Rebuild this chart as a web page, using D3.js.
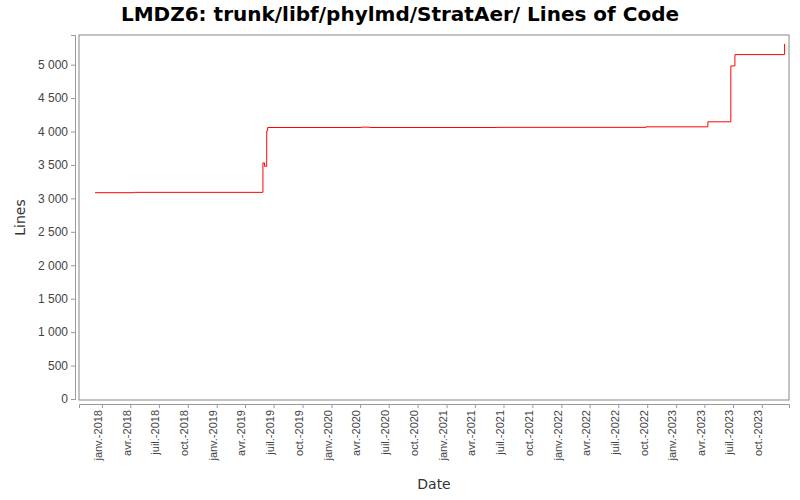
<!DOCTYPE html>
<html><head><meta charset="utf-8">
<script src="https://cdn.jsdelivr.net/npm/d3@7"></script>
<style>body{margin:0;background:#fff;font-family:"DejaVu Sans",sans-serif}</style>
</head><body>
<script>
var dates = ["2017-12-10","2018-04-15","2019-05-28","2019-06-02","2019-06-09","2019-06-12","2020-04-05","2020-05-01","2021-06-10","2022-09-27","2023-04-12","2023-06-24","2023-07-07","2023-12-11","2023-12-12"]
var lines = [3085,3090,3530,3480,4010,4060,4065,4060,4062,4070,4145,4980,5150,5150,5310]
var yTicks = [0,500,1000,1500,2000,2500,3000,3500,4000,4500,5000]
var monthNames = ["janv.","févr.","mars","avr.","mai","juin","juil.","août","sept.","oct.","nov.","déc."]

var width = 800, height = 500
var margin = {top: 35, right: 11, bottom: 100, left: 79}
var parse = d3.timeParse("%Y-%m-%d")
var data = dates.map(function(d, i) { return {date: parse(d), value: lines[i]} })

var svg = d3.select("body").append("svg").attr("width", width).attr("height", height)

var x = d3.scaleTime()
  .domain([parse("2017-10-20"), parse("2023-12-26")])
  .range([margin.left, width - margin.right])
var y = d3.scaleLinear()
  .domain([0, 5443])
  .range([height - margin.bottom - 1, margin.top])

svg.append("text")
  .attr("x", width / 2).attr("y", 21)
  .attr("text-anchor", "middle")
  .style("font-size", "20px").style("font-weight", "bold")
  .text("LMDZ6: trunk/libf/phylmd/StratAer/ Lines of Code")

// plot frame
svg.append("rect")
  .attr("x", margin.left).attr("y", margin.top)
  .attr("width", width - margin.left - margin.right)
  .attr("height", height - margin.top - margin.bottom)
  .attr("fill", "white").attr("stroke", "#888")

var xTicks = d3.timeMonth.every(3).range(parse("2018-01-01"), parse("2023-12-01"))
var gX = svg.append("g")
  .attr("transform", "translate(0," + (height - margin.bottom + 4) + ")")
  .call(d3.axisBottom(x).tickValues(xTicks).tickSize(4)
    .tickFormat(function(d) { return monthNames[d.getMonth()] + "-" + d.getFullYear() }))
gX.selectAll("line, path").attr("stroke", "#999")
gX.selectAll("text")
  .attr("transform", "rotate(-90)")
  .attr("text-anchor", "end")
  .attr("x", -6).attr("y", -4).attr("dy", "0.35em")
  .style("font-size", "11px").attr("fill", "#444")

var gY = svg.append("g")
  .attr("transform", "translate(" + (margin.left - 4) + ",0)")
  .call(d3.axisLeft(y).tickValues(yTicks).tickSize(4)
    .tickFormat(function(d) { return d3.format(",")(d).replace(",", " ") }))
gY.selectAll("line, path").attr("stroke", "#999")
gY.selectAll("text").style("font-size", "12px").attr("fill", "#444")

var line = d3.line()
  .x(function(d) { return x(d.date) })
  .y(function(d) { return y(d.value) })
  .curve(d3.curveStepAfter)

svg.append("path").datum(data)
  .attr("d", line)
  .attr("fill", "none").attr("stroke", "red").attr("stroke-width", 1)

svg.append("text")
  .attr("x", margin.left + (width - margin.left - margin.right) / 2).attr("y", 489)
  .attr("text-anchor", "middle").style("font-size", "14px").attr("fill", "#333")
  .text("Date")
svg.append("text")
  .attr("transform", "translate(25," + (margin.top + (height - margin.top - margin.bottom) / 2) + ") rotate(-90)")
  .attr("text-anchor", "middle").style("font-size", "14px").attr("fill", "#333")
  .text("Lines")
</script>
</body></html>
